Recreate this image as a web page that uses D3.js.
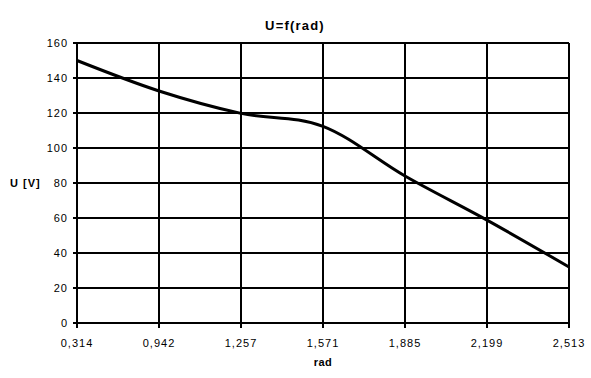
<!DOCTYPE html>
<html>
<head>
<meta charset="utf-8">
<script src="https://cdn.jsdelivr.net/npm/d3@7"></script>
<style>
  body { margin:0; background:white; }
  text { font-family: "Liberation Sans", Arial, sans-serif; fill:black; }
</style>
</head>
<body>
<svg id="chart" width="591" height="378"></svg>
<script>
// data
var categories = ["0,314","0,942","1,257","1,571","1,885","2,199","2,513"];
var voltages = [150, 132.6, 119.8, 112.4, 84, 58.8, 32];
var yTicks = [0,20,40,60,80,100,120,140,160];

var width = 591, height = 378;
var margin = {top:43, right:22, bottom:55, left:77};

var svg = d3.select("#chart");

var x = d3.scalePoint()
  .domain(categories)
  .range([margin.left, width-margin.right]);
var y = d3.scaleLinear()
  .domain([0,160])
  .range([height-margin.bottom, margin.top]);

// grid lines
svg.append("g")
  .selectAll("line.hgrid")
  .data(yTicks)
  .enter().append("line")
    .attr("x1",margin.left)
    .attr("x2",width-margin.right)
    .attr("y1",function(d) { return Math.round(y(d)); })
    .attr("y2",function(d) { return Math.round(y(d)); })
    .style("stroke","black")
    .style("stroke-width","2px");
svg.append("g")
  .selectAll("line.vgrid")
  .data(categories)
  .enter().append("line")
    .attr("x1",function(d) { return Math.round(x(d)); })
    .attr("x2",function(d) { return Math.round(x(d)); })
    .attr("y1",Math.round(y(0)))
    .attr("y2",Math.round(y(160)))
    .style("stroke","black")
    .style("stroke-width","2px");

// axes
var yAxis = svg.append("g")
  .attr("transform","translate(" + margin.left + ",0)")
  .call(d3.axisLeft(y).tickValues(yTicks).tickSize(4).tickPadding(5).offset(0));
var xAxis = svg.append("g")
  .attr("transform","translate(0," + Math.round(y(0)) + ")")
  .call(d3.axisBottom(x).tickSize(5).tickPadding(11).offset(0));

svg.selectAll(".domain").style("stroke","black").style("stroke-width","2px");
svg.selectAll(".tick line").style("stroke","black").style("stroke-width","2px");
svg.selectAll(".tick text")
  .style("font-family","Liberation Sans, Arial, sans-serif")
  .style("font-size","11px")
  .style("letter-spacing","1px")
  .attr("fill","black");

// the curve
var line = d3.line()
  .x(function(d,i) { return x(categories[i]); })
  .y(function(d) { return y(d); })
  .curve(d3.curveCardinal.tension(0));
svg.append("path")
  .datum(voltages)
  .attr("d",line)
  .style("fill","none")
  .style("stroke","black")
  .style("stroke-width","3px");

// titles
svg.append("text")
  .attr("x",295)
  .attr("y",30)
  .attr("text-anchor","middle")
  .style("font-size","13px")
  .style("font-weight","bold")
  .style("letter-spacing","1.2px")
  .text("U=f(rad)");
svg.append("text")
  .attr("x",10)
  .attr("y",187)
  .style("font-size","11px")
  .style("font-weight","bold")
  .style("letter-spacing","1px")
  .text("U [V]");
svg.append("text")
  .attr("x",(margin.left + width-margin.right)/2)
  .attr("y",366)
  .attr("text-anchor","middle")
  .style("font-size","11px")
  .style("font-weight","bold")
  .style("letter-spacing","0.5px")
  .text("rad");
</script>
</body>
</html>
